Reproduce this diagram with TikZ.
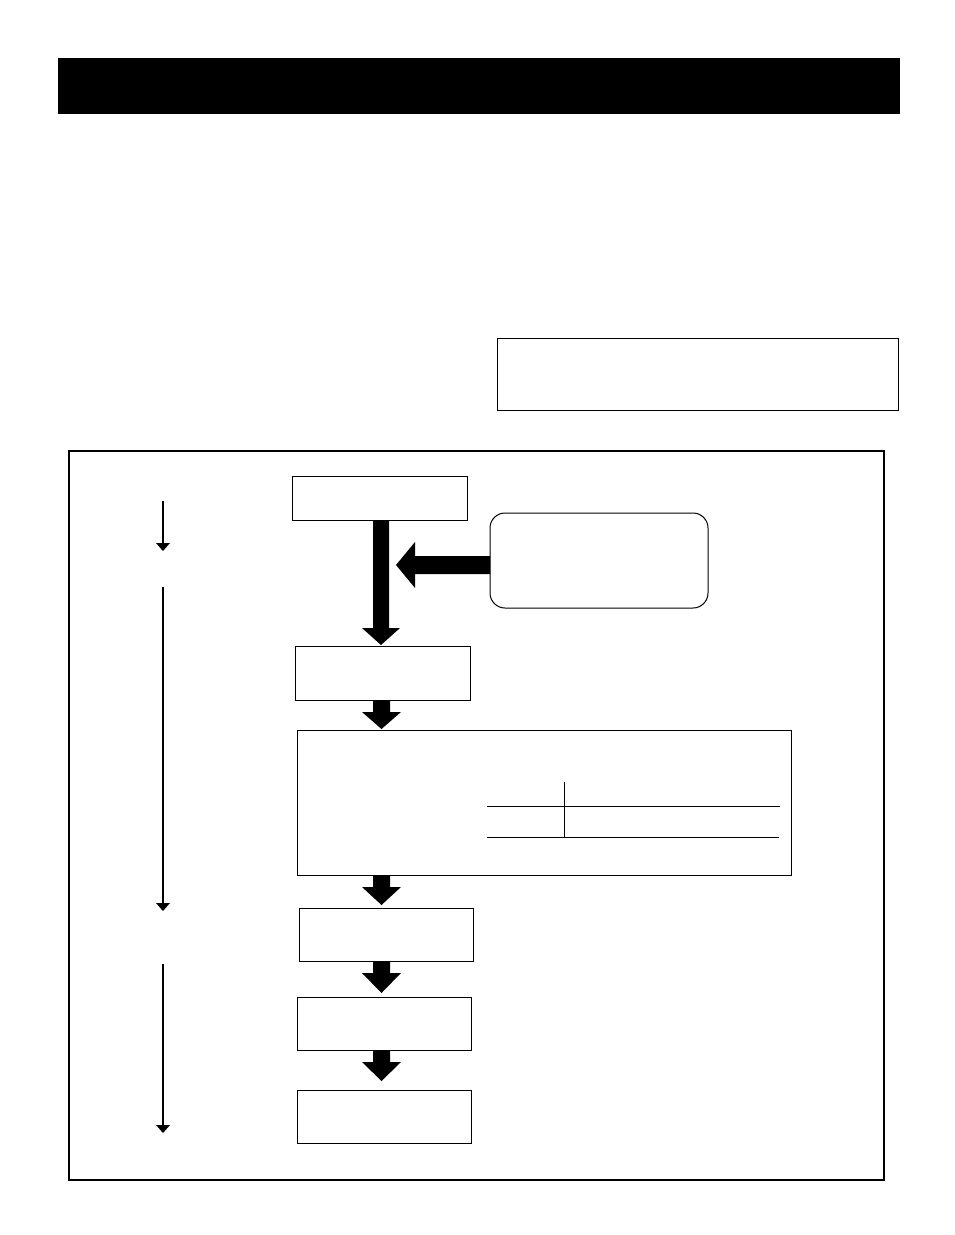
\documentclass[tikz,border=0pt]{standalone}
\begin{document}
\begin{tikzpicture}[x=1pt,y=-1pt,
  box/.style={draw,line width=1pt,inner sep=0},
  thin/.style={line width=2.5pt,-{Latex[length=6pt,width=7pt]}}]
\useasboundingbox (0,0) rectangle (954,1235);
\fill (58,58) rectangle (900,114);
\draw[line width=0.8pt] (497,338) rectangle (898,410);
\draw[line width=1.2pt] (69,451) rectangle (884,1180);
\draw[box] (292,476) rectangle (467,520);
\draw[box,rounded corners=15pt] (490,513) rectangle (708,608);
\draw[box] (295,646) rectangle (470,700);
\draw[box] (297,730) rectangle (791,875);
\draw[box] (299,908) rectangle (473,961);
\draw[box] (297,997) rectangle (471,1050);
\draw[box] (297,1090) rectangle (471,1143);
% table lines
\draw[line width=0.8pt] (487,806) -- (780,806) (487,837) -- (779,837) (564,782) -- (564,837);
% fat arrows
\fill (373,520) -- (389,520) -- (389,628) -- (400,628) -- (381,645) -- (362,628) -- (373,628) -- cycle;
\fill (490,556) -- (415,556) -- (415,542) -- (396,565) -- (415,588) -- (415,574) -- (490,574) -- cycle;
\foreach \a/\b in {700/729,875/905,961/993,1050/1081}{
  \fill (373,\a) -- (390,\a) -- (390,\a+12) -- (401,\a+12) -- (381.5,\b) -- (362,\a+12) -- (373,\a+12) -- cycle;}
% thin arrows
\draw[line width=2.5pt] (163,501) -- (163,543);
\fill (156,543) -- (170,543) -- (163,551) -- cycle;
\draw[line width=2.5pt] (163,587) -- (163,903);
\fill (156,903) -- (170,903) -- (163,911) -- cycle;
\draw[line width=2.5pt] (163,964) -- (163,1125);
\fill (156,1125) -- (170,1125) -- (163,1133) -- cycle;
\end{tikzpicture}
\end{document}
